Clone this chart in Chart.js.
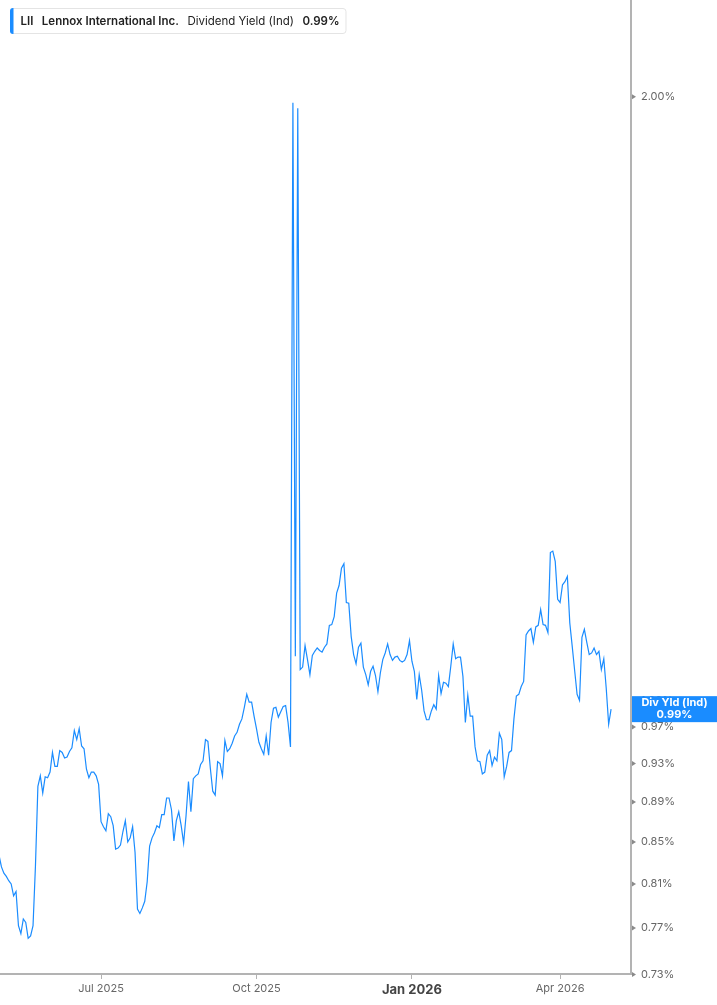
<!DOCTYPE html>
<html>
<head>
<meta charset="utf-8">
<script src="https://cdn.jsdelivr.net/npm/chart.js@4/dist/chart.umd.min.js"></script>
<style>
html,body{margin:0;padding:0;background:#fff;}
#wrap{position:relative;width:717px;height:1005px;}
canvas{display:block;}
</style>
</head>
<body>
<div id="wrap"><canvas id="c" width="717" height="1005"></canvas></div>
<script>
// ---- Data (one value per trading day, 30 Apr 2025 .. 1 May 2026) ----
const ticker = 'LII';
const companyName = 'Lennox International Inc.';
const metricName = 'Dividend Yield (Ind)';
const tagTitle = 'Div Yld (Ind)';

const yieldPct = [
  0.837,0.826,0.820,0.817,0.813,0.810,0.799,0.803,0.772,0.765,
  0.778,0.775,0.761,0.763,0.772,0.827,0.906,0.917,0.899,0.916,
  0.915,0.921,0.942,0.927,0.927,0.944,0.942,0.936,0.937,0.943,
  0.947,0.966,0.956,0.968,0.949,0.946,0.924,0.915,0.921,0.921,
  0.917,0.908,0.870,0.865,0.861,0.878,0.875,0.866,0.843,0.844,
  0.847,0.860,0.871,0.850,0.854,0.865,0.840,0.787,0.783,0.788,
  0.794,0.812,0.846,0.854,0.859,0.866,0.864,0.877,0.877,0.894,
  0.894,0.882,0.851,0.871,0.880,0.866,0.849,0.876,0.911,0.880,
  0.914,0.917,0.919,0.929,0.933,0.956,0.954,0.925,0.901,0.897,
  0.932,0.930,0.917,0.955,0.943,0.946,0.952,0.960,0.964,0.973,
  0.979,0.992,1.007,0.998,0.998,0.982,0.968,0.953,0.946,0.940,
  0.960,0.939,0.975,0.991,0.992,0.981,0.987,0.993,0.994,0.975,
  0.948,1.986,1.052,1.974,1.036,1.039,1.065,1.048,1.030,1.053,
  1.058,1.062,1.059,1.057,1.063,1.067,1.090,1.091,1.101,1.131,
  1.141,1.164,1.170,1.119,1.118,1.076,1.054,1.043,1.063,1.068,
  1.039,1.030,1.018,1.034,1.040,1.029,1.010,1.032,1.048,1.056,
  1.067,1.054,1.047,1.051,1.052,1.047,1.045,1.047,1.054,1.071,
  1.046,1.034,1.001,1.030,1.012,0.988,0.978,0.978,0.988,0.995,
  0.990,1.029,1.008,1.021,1.020,1.016,1.040,1.067,1.049,1.051,
  1.051,1.028,0.975,1.006,0.982,0.982,0.948,0.933,0.932,0.919,
  0.921,0.939,0.944,0.928,0.937,0.933,0.963,0.956,0.916,0.927,
  0.942,0.944,0.979,1.005,1.007,1.016,1.022,1.078,1.083,1.086,
  1.069,1.088,1.090,1.110,1.091,1.090,1.081,1.185,1.187,1.173,
  1.123,1.119,1.142,1.146,1.153,1.093,1.064,1.035,1.007,1.000,
  1.075,1.085,1.069,1.054,1.056,1.062,1.054,1.058,1.036,1.049,
  1.014,0.973,0.990
];

// x-axis: trading-day index of each labelled month start
const xTickIndex  = [42, 106, 170, 231];
const xTickLabels = ['Jul 2025', 'Oct 2025', 'Jan 2026', 'Apr 2026'];
const xBoldLabel  = 'Jan 2026';

// y-axis tick values (percent)
const yTickValues = [0.73, 0.77, 0.81, 0.85, 0.89, 0.93, 0.97, 1.00, 2.00];

// ---- Styling ----
const BLUE = '#1a8cff';
const AXIS = '#b3b3b3';
const FONT = 'Inter, "Noto Sans", sans-serif';
const lastValue = yieldPct[yieldPct.length - 1];
const fmtPct = v => v.toFixed(2) + '%';

function roundRect(ctx, x, y, w, h, r) {
  ctx.beginPath();
  ctx.moveTo(x + r, y);
  ctx.lineTo(x + w - r, y);
  ctx.arcTo(x + w, y, x + w, y + r, r);
  ctx.lineTo(x + w, y + h - r);
  ctx.arcTo(x + w, y + h, x + w - r, y + h, r);
  ctx.lineTo(x + r, y + h);
  ctx.arcTo(x, y + h, x, y + h - r, r);
  ctx.lineTo(x, y + r);
  ctx.arcTo(x, y, x + r, y, r);
  ctx.closePath();
}

const overlay = {
  id: 'overlay',
  afterDraw(chart) {
    const ctx = chart.ctx;
    const ys = chart.scales.y;
    const area = chart.chartArea;
    ctx.save();
    // small triangles on the y axis
    ctx.fillStyle = '#8a8a8a';
    yTickValues.forEach(v => {
      const py = ys.getPixelForValue(v);
      ctx.beginPath();
      ctx.moveTo(area.right + 1, py - 2.5);
      ctx.lineTo(area.right + 5, py);
      ctx.lineTo(area.right + 1, py + 2.5);
      ctx.closePath();
      ctx.fill();
    });

    // last value tag
    const ty = ys.getPixelForValue(lastValue);
    const tx = area.right + 1;
    const tw = chart.width - tx;
    const th = 26;
    ctx.fillStyle = BLUE;
    ctx.fillRect(tx, ty - th / 2, tw, th);
    ctx.fillStyle = '#ffffff';
    ctx.font = 'bold 11px ' + FONT;
    ctx.textAlign = 'center';
    ctx.textBaseline = 'middle';
    const cx = tx + tw / 2;
    ctx.fillText(tagTitle, cx, ty - 6);
    ctx.fillText(fmtPct(lastValue), cx, ty + 6);

    // legend box
    const parts = [
      {t: ticker, b: true},
      {t: companyName, b: true},
      {t: metricName, b: false},
      {t: fmtPct(lastValue), b: true}
    ];
    const gap = 8.5;
    const fs = '11.5px ';
    let x = 20.5;
    const pos = [];
    parts.forEach(p => {
      ctx.font = (p.b ? '600 ' : '400 ') + fs + FONT;
      const w = ctx.measureText(p.t).width;
      pos.push({x, p});
      x += w + gap;
    });
    const boxR = x - gap + 6.5;
    const bx = 10.5, by = 8.5, bh = 25;
    ctx.fillStyle = '#ffffff';
    roundRect(ctx, bx, by, boxR - bx, bh, 3);
    ctx.fill();
    ctx.strokeStyle = '#e4e4e4';
    ctx.lineWidth = 1;
    ctx.stroke();
    ctx.save();
    roundRect(ctx, bx - 0.5, by - 0.5, boxR - bx + 1, bh + 1, 3);
    ctx.clip();
    ctx.fillStyle = BLUE;
    ctx.fillRect(bx - 0.5, by - 0.5, 3.5, bh + 1);
    ctx.restore();
    ctx.fillStyle = '#222222';
    ctx.textAlign = 'left';
    ctx.textBaseline = 'middle';
    pos.forEach(o => {
      ctx.font = (o.p.b ? '600 ' : '400 ') + fs + FONT;
      ctx.fillText(o.p.t, o.x, by + bh / 2 + 0.5);
    });
    ctx.restore();
  }
};

new Chart(document.getElementById('c').getContext('2d'), {
  type: 'line',
  data: {
    datasets: [{
      data: yieldPct.map((v, i) => ({x: i, y: v})),
      borderColor: BLUE,
      borderWidth: 1.2,
      pointRadius: 0,
      pointHoverRadius: 0,
      tension: 0,
      fill: false
    }]
  },
  options: {
    responsive: false,
    animation: false,
    devicePixelRatio: 1,
    layout: {padding: 0},
    plugins: {legend: {display: false}, tooltip: {enabled: false}},
    scales: {
      x: {
        type: 'linear',
        bounds: 'data',
        min: 0.4,
        max: 260.2,
        grid: {drawOnChartArea: false, drawTicks: true, tickLength: 5, color: AXIS, lineWidth: 1},
        border: {display: true, color: AXIS, width: 2},
        afterBuildTicks: s => { s.ticks = xTickIndex.map(v => ({value: v})); },
        afterFit: s => { s.height = 31; s.paddingLeft = 0; s.paddingRight = 0; },
        ticks: {
          autoSkip: false,
          maxRotation: 0,
          padding: 3,
          color: c => (c.tick && xTickLabels[xTickIndex.indexOf(c.tick.value)] === xBoldLabel) ? '#444' : '#666',
          font: c => (c.tick && xTickLabels[xTickIndex.indexOf(c.tick.value)] === xBoldLabel)
            ? {family: FONT, size: 13, weight: 'bold'}
            : {family: FONT, size: 11},
          callback: v => xTickLabels[xTickIndex.indexOf(v)] || ''
        }
      },
      y: {
        type: 'logarithmic',
        position: 'right',
        bounds: 'data',
        min: 0.7304,
        max: 2.235,
        grid: {drawOnChartArea: false, drawTicks: false},
        border: {display: true, color: AXIS, width: 2},
        afterBuildTicks: s => { s.ticks = yTickValues.map(v => ({value: v})); },
        afterFit: s => { s.width = 86; s.paddingTop = 0; s.paddingBottom = 0; },
        ticks: {
          padding: 10,
          color: '#666',
          font: {family: FONT, size: 11},
          callback: v => fmtPct(v)
        }
      }
    }
  },
  plugins: [overlay]
});
</script>
</body>
</html>
